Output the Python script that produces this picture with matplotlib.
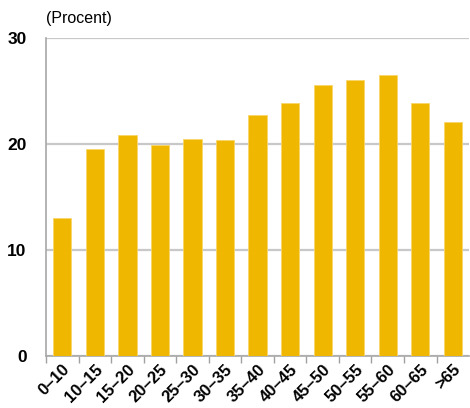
import matplotlib
matplotlib.use("Agg")
import matplotlib.pyplot as plt
import numpy as np

groups = ["0–10", "10–15", "15–20", "20–25", "25–30", "30–35", "35–40",
          "40–45", "45–50", "50–55", "55–60", "60–65", ">65"]
share = [13.0, 19.5, 20.85, 19.9, 20.5, 20.4, 22.7,
         23.9, 25.55, 26.0, 26.5, 23.9, 22.1]

plt.rcParams["font.family"] = ["Liberation Sans", "DejaVu Sans"]

fig = plt.figure(figsize=(4.70, 4.08), dpi=100)
ax = fig.add_axes([0.098, 0.127, 0.9, 0.78])

x = np.arange(len(groups))
ax.bar(x, share, width=0.56, color="#F0B700", edgecolor="#F6D66A", linewidth=0.6, zorder=3)

ax.set_xlim(-0.5, len(groups) - 0.5)
ax.set_ylim(0, 30)
ax.set_yticks([0, 10, 20, 30])
ax.set_yticklabels(["0", "10", "20", "30"], fontsize=12.5, fontweight="bold")
ax.yaxis.grid(True, color="#C8C8C8", linewidth=1.6, zorder=0)
ax.tick_params(axis="y", length=0, pad=14)

ax.set_xticks(x - 0.5, minor=True)
ax.set_xticks(x)
ax.set_xticklabels(groups, rotation=45, ha="right", rotation_mode="anchor",
                   fontsize=12, fontweight="bold")
ax.tick_params(axis="x", which="major", length=0, pad=4)
ax.tick_params(axis="x", which="minor", length=5, color="#A0A0A0", width=1)

for side in ["top", "right"]:
    ax.spines[side].set_visible(False)
for side in ["left", "bottom"]:
    ax.spines[side].set_color("#A8A8A8")
    ax.spines[side].set_linewidth(1.2)

fig.text(0.098, 0.937, "(Procent)", fontsize=11.5, ha="left", va="bottom")

fig.savefig("out.png", dpi=100)
